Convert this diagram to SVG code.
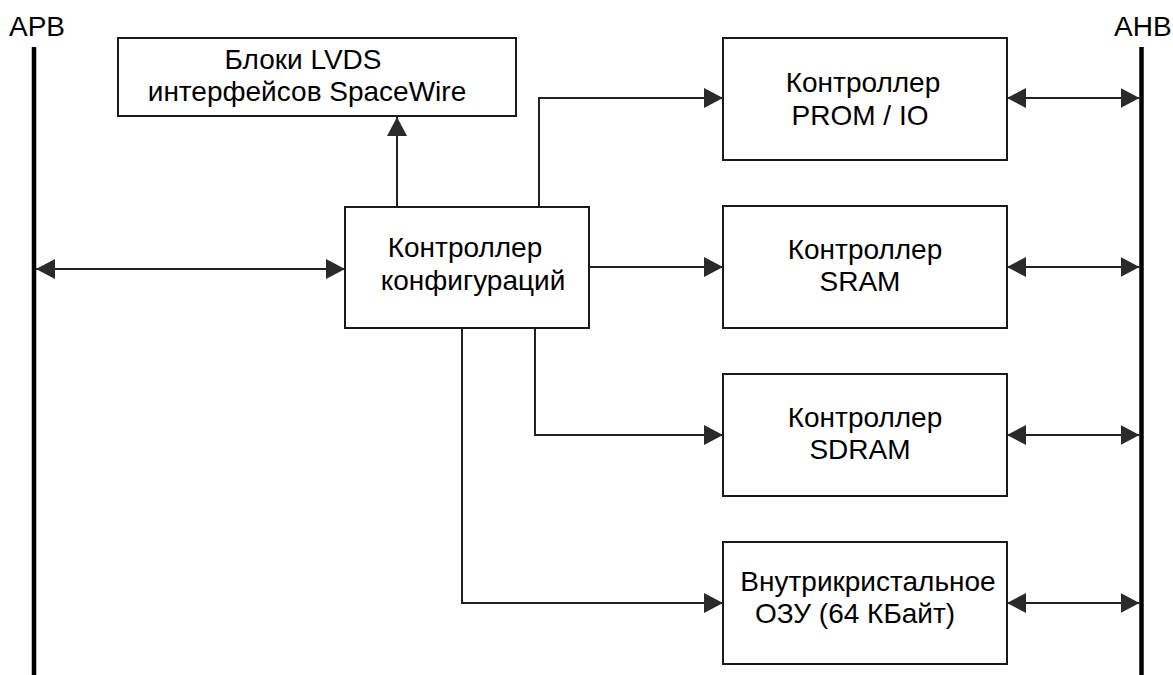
<svg xmlns="http://www.w3.org/2000/svg" width="1173" height="675" viewBox="0 0 1173 675">
<style>
.box{fill:#fff;stroke:#1a1a1a;stroke-width:2}
.bus{stroke:#000;stroke-width:4.5;fill:none}
.con{stroke:#222;stroke-width:2;fill:none}
.t{font-family:"Liberation Sans",Arial,sans-serif;font-size:28px;fill:#000;text-anchor:middle}
.lbl{font-family:"Liberation Sans",Arial,sans-serif;font-size:28px;fill:#000}
</style>
<defs>
<marker id="ah" markerUnits="userSpaceOnUse" markerWidth="19" markerHeight="20" viewBox="0 0 19 20" refX="19" refY="10" orient="auto-start-reverse">
<path d="M0,0 L19,10 L0,20 z" fill="#2a2a2a"/>
</marker>
</defs>
<rect width="1173" height="675" fill="#fff"/>
<g id="apb">
<text class="lbl" x="9" y="36">APB</text>
<line class="bus" x1="34" y1="47" x2="34" y2="675"/>
</g>
<g id="ahb">
<text class="lbl" x="1114" y="36">AHB</text>
<line class="bus" x1="1141.5" y1="47" x2="1141.5" y2="675"/>
</g>
<g id="connectors">
<line class="con" x1="36" y1="269" x2="345" y2="269" marker-start="url(#ah)" marker-end="url(#ah)"/>
<line class="con" x1="397" y1="207" x2="397" y2="117" marker-end="url(#ah)"/>
<polyline class="con" points="539,207 539,98 723,98" marker-end="url(#ah)"/>
<line class="con" x1="589" y1="267" x2="723" y2="267" marker-end="url(#ah)"/>
<polyline class="con" points="535,328 535,435 723,435" marker-end="url(#ah)"/>
<polyline class="con" points="462,328 462,603 723,603" marker-end="url(#ah)"/>
<line class="con" x1="1007" y1="98" x2="1139.5" y2="98" marker-start="url(#ah)" marker-end="url(#ah)"/>
<line class="con" x1="1007" y1="267" x2="1139.5" y2="267" marker-start="url(#ah)" marker-end="url(#ah)"/>
<line class="con" x1="1007" y1="435" x2="1139.5" y2="435" marker-start="url(#ah)" marker-end="url(#ah)"/>
<line class="con" x1="1007" y1="603" x2="1139.5" y2="603" marker-start="url(#ah)" marker-end="url(#ah)"/>
</g>
<g id="lvds">
<rect class="box" x="118" y="38" width="398" height="78"/>
<text class="t" x="303" y="69">Блоки LVDS</text>
<text class="t" x="307" y="101">интерфейсов SpaceWire</text>
</g>
<g id="config">
<rect class="box" x="345" y="207" width="244" height="121"/>
<text class="t" x="465" y="257">Контроллер</text>
<text class="t" x="473" y="290">конфигураций</text>
</g>
<g id="prom">
<rect class="box" x="723" y="38" width="284" height="122"/>
<text class="t" x="863" y="92">Контроллер</text>
<text class="t" x="860" y="125">PROM / IO</text>
</g>
<g id="sram">
<rect class="box" x="723" y="206" width="284" height="122"/>
<text class="t" x="865" y="259">Контроллер</text>
<text class="t" x="860" y="291">SRAM</text>
</g>
<g id="sdram">
<rect class="box" x="723" y="374" width="284" height="122"/>
<text class="t" x="865" y="427">Контроллер</text>
<text class="t" x="860" y="459">SDRAM</text>
</g>
<g id="ram">
<rect class="box" x="723" y="542" width="284" height="122"/>
<text class="t" x="868" y="591">Внутрикристальное</text>
<text class="t" x="855" y="623">ОЗУ (64 КБайт)</text>
</g>
</svg>
